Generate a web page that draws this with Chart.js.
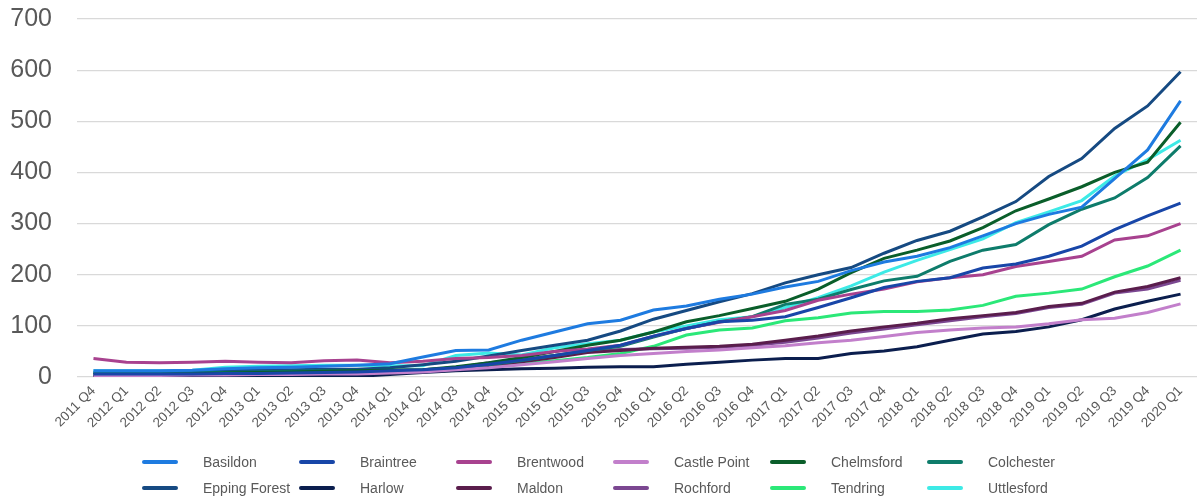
<!DOCTYPE html>
<html>
<head>
<meta charset="utf-8">
<script src="https://cdn.jsdelivr.net/npm/chart.js@4"></script>
<style>
  body { margin: 0; background: #fff; }
  canvas { display: block; }
</style>
</head>
<body>
<canvas id="graphCanvas" width="1198" height="501"></canvas>
<script>
const quarters = ['2011 Q4', '2012 Q1', '2012 Q2', '2012 Q3', '2012 Q4', '2013 Q1', '2013 Q2', '2013 Q3', '2013 Q4',
  '2014 Q1', '2014 Q2', '2014 Q3', '2014 Q4', '2015 Q1', '2015 Q2', '2015 Q3', '2015 Q4',
  '2016 Q1', '2016 Q2', '2016 Q3', '2016 Q4', '2017 Q1', '2017 Q2', '2017 Q3', '2017 Q4',
  '2018 Q1', '2018 Q2', '2018 Q3', '2018 Q4', '2019 Q1', '2019 Q2', '2019 Q3', '2019 Q4', '2020 Q1'];

const basildon    = [12,12,12,13,16,18,19,21,23,26,39,52,53,72,88,104,111,131,139,152,162,176,187,208,225,236,253,276,300,318,332,388,444,540];
const braintree   = [6,6,6,6,7,7,8,9,10,12,14,18,25,33,42,52,62,80,95,108,111,118,136,155,175,187,194,213,221,236,256,288,315,340];
const brentwood   = [36,29,28,29,31,29,28,32,33,28,31,36,38,42,50,55,62,80,95,107,118,130,150,162,172,186,194,200,216,226,236,268,276,300];
const castlePoint = [3,3,3,4,4,5,5,6,6,8,10,14,18,24,30,36,42,46,50,53,57,61,67,72,79,87,92,96,98,104,112,115,126,143];
const chelmsford  = [5,5,5,6,8,9,10,11,12,13,14,20,28,38,50,62,72,88,108,120,134,148,172,204,232,248,266,292,325,348,372,400,420,498];
const colchester  = [8,8,8,8,9,10,11,12,12,13,14,18,24,32,42,52,60,78,95,108,118,142,152,171,188,197,226,248,259,298,328,350,390,452];
const epping      = [8,8,8,9,14,14,14,15,15,18,24,31,41,52,62,72,90,113,130,147,163,184,200,214,242,267,285,313,343,392,427,486,530,597];
const harlow      = [1,1,1,1,1,1,1,1,1,5,9,12,14,16,17,19,20,20,25,29,33,36,36,46,51,59,72,84,89,98,112,133,148,162];
const maldon      = [2,2,2,3,3,4,4,5,6,8,10,16,22,30,38,48,52,56,58,60,64,72,80,90,98,105,114,120,126,138,144,166,177,194];
const rochford    = [4,4,4,5,5,6,6,7,8,10,12,18,28,34,42,50,54,55,56,58,62,68,76,86,94,102,110,118,124,136,142,164,172,189];
const tendring    = [4,4,4,5,6,7,8,9,10,12,13,18,22,26,32,38,46,60,82,92,96,110,116,125,128,128,131,140,158,164,172,196,217,248];
const uttlesford  = [12,12,12,13,19,21,22,23,23,22,22,42,47,43,57,65,72,88,100,112,118,136,155,178,205,228,249,270,302,323,345,393,425,463];

const names  = ['Basildon', 'Braintree', 'Brentwood', 'Castle Point', 'Chelmsford', 'Colchester',
  'Epping Forest', 'Harlow', 'Maldon', 'Rochford', 'Tendring', 'Uttlesford'];
const series = [basildon, braintree, brentwood, castlePoint, chelmsford, colchester,
  epping, harlow, maldon, rochford, tendring, uttlesford];
const colours = ['#1e7be0', '#1846a8', '#a8428f', '#c27fcb', '#0a5e2a', '#0e7c6b',
  '#164a82', '#0b1e4e', '#5a1d4c', '#7b4791', '#2be878', '#3deae6'];

const yTicks = [0, 100, 200, 300, 400, 500, 600, 700];

// legend in fixed columns, 6 per row, like the original
const gridLegend = {
  id: 'gridLegend',
  afterDraw(chart) {
    const ctx = chart.ctx;
    ctx.save();
    ctx.font = '14px "Liberation Sans", Arial, sans-serif';
    ctx.textBaseline = 'middle';
    ctx.textAlign = 'left';
    chart.data.datasets.forEach((ds, i) => {
      const x = 142 + (i % 6) * 157;
      const y = 462 + Math.floor(i / 6) * 26;
      ctx.strokeStyle = ds.borderColor;
      ctx.lineWidth = 4;
      ctx.lineCap = 'round';
      ctx.beginPath();
      ctx.moveTo(x + 2, y);
      ctx.lineTo(x + 34, y);
      ctx.stroke();
      ctx.fillStyle = '#595959';
      ctx.fillText(ds.label, x + 61, y + 1);
    });
    ctx.restore();
  }
};

const datasets = names.map((n, i) => ({
  label: n,
  data: series[i],
  borderColor: colours[i],
  backgroundColor: colours[i],
  borderWidth: 3,
  pointRadius: 0,
  tension: 0,
  fill: false
}));

const ctx = document.getElementById('graphCanvas');
new Chart(ctx, {
  type: 'line',
  data: { labels: quarters, datasets: datasets },
  plugins: [gridLegend],
  options: {
    responsive: false,
    animation: false,
    layout: { padding: 0 },
    plugins: {
      legend: { display: false },
      tooltip: { enabled: false }
    },
    scales: {
      x: {
        offset: true,
        grid: { display: false, drawTicks: false },
        border: { display: false },
        ticks: {
          autoSkip: false,
          maxRotation: 45,
          minRotation: 45,
          padding: 6,
          color: '#595959',
          font: { family: '"Liberation Sans", Arial, sans-serif', size: 13.5 }
        },
        afterFit(scale) { scale.height = 124; }
      },
      y: {
        min: 0,
        max: 700,
        afterBuildTicks(scale) { scale.ticks = yTicks.map(v => ({ value: v })); },
        grid: { color: '#d9d9d9', lineWidth: 1.2, drawTicks: false },
        border: { display: false },
        ticks: {
          padding: 25,
          color: '#595959',
          font: { family: '"Liberation Sans", Arial, sans-serif', size: 25 }
        },
        afterFit(scale) { scale.width = 77; scale.paddingTop = 19; }
      }
    }
  }
});
</script>
</body>
</html>
